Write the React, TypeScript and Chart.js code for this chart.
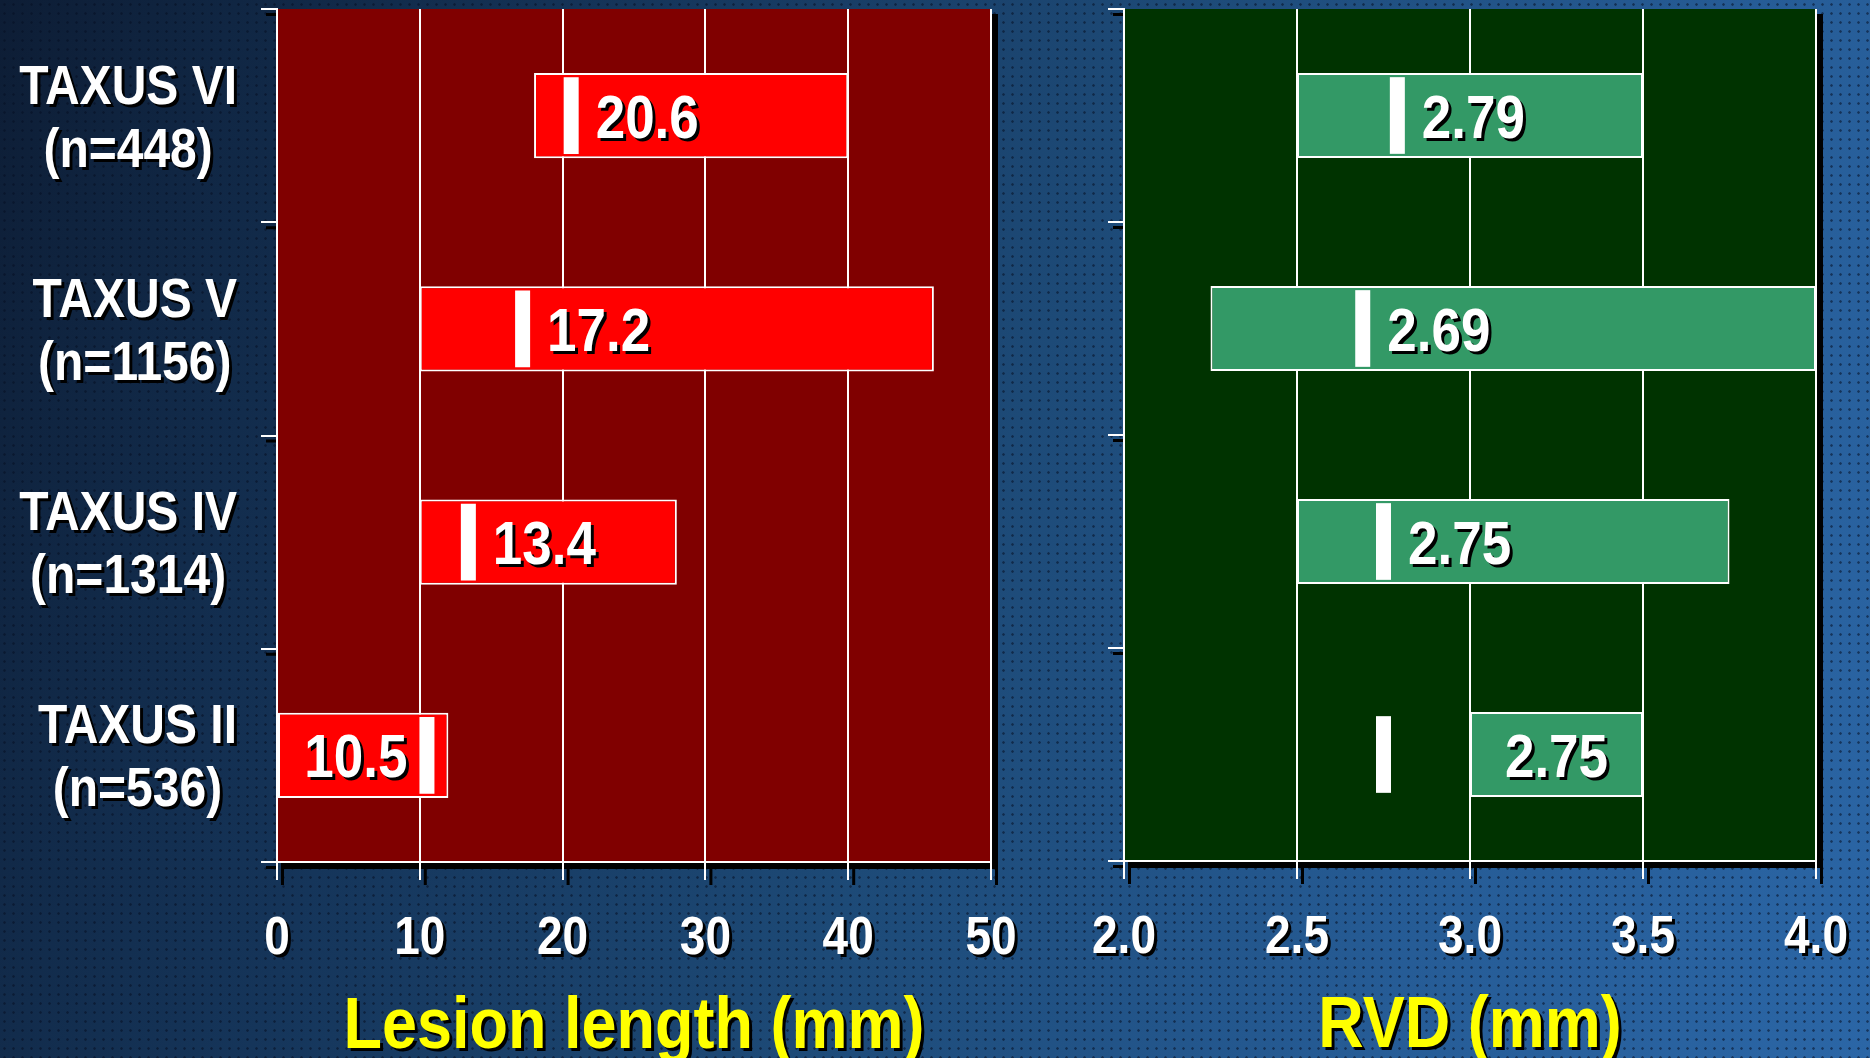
import React, { useEffect, useRef } from 'react';
import { Chart, registerables } from 'chart.js';

Chart.register(...registerables);

// ---------- data ----------
const categories = ['TAXUS VI', 'TAXUS V', 'TAXUS IV', 'TAXUS II'];
const sampleSizes = ['(n=448)', '(n=1156)', '(n=1314)', '(n=536)'];

const lesionRanges: [number, number][] = [[18, 40], [10, 46], [10, 28], [0, 12]];
const lesionMedians = [20.6, 17.2, 13.4, 10.5];
const lesionTicks = [0, 10, 20, 30, 40, 50];
const lesionTitle = 'Lesion length (mm)';

const rvdRanges: [number, number][] = [[2.5, 3.5], [2.25, 4.0], [2.5, 3.75], [3.0, 3.5]];
const rvdMedians = [2.79, 2.69, 2.75, 2.75];
const rvdTicks = [2.0, 2.5, 3.0, 3.5, 4.0];
const rvdTitle = 'RVD (mm)';

// ---------- helpers ----------
const FONT = '"Liberation Sans", Arial, Helvetica, sans-serif';
const STRETCH = 1.16;

function setFont(ctx: CanvasRenderingContext2D, size: number) {
  ctx.font = `bold ${size}px ${FONT}`;
}

function drawText(
  ctx: CanvasRenderingContext2D,
  text: string,
  x: number,
  yCenter: number,
  size: number,
  color: string,
  align: CanvasTextAlign,
) {
  ctx.save();
  setFont(ctx, size);
  ctx.textAlign = align;
  ctx.textBaseline = 'alphabetic';
  const capH = 0.716 * size;
  ctx.translate(x, yCenter);
  ctx.scale(1, STRETCH);
  const by = capH / 2;
  ctx.fillStyle = '#000000';
  ctx.fillText(text, 3, by + 3 / STRETCH);
  ctx.fillStyle = color;
  ctx.fillText(text, 0, by);
  ctx.restore();
}

interface PanelCfg {
  ranges: [number, number][];
  medians: number[];
  decimals: number;
  tickDecimals: number;
  title: string;
  plotBg: string;
  showCategories: boolean;
}

function makePlugin(cfg: PanelCfg) {
  return {
    id: 'panelDecor',
    beforeDraw(chart: any) {
      const ctx: CanvasRenderingContext2D = chart.ctx;
      const a = chart.chartArea;
      const xs = chart.scales.x;
      const ys = chart.scales.y;
      ctx.save();
      // drop shadow of plot area
      ctx.fillStyle = '#000000';
      ctx.fillRect(a.left + 6, a.top + 5, a.right - a.left + 1, a.bottom - a.top + 2);
      // shadows of bottom tick marks
      for (const t of xs.ticks) {
        const px = xs.getPixelForValue(t.value);
        ctx.fillRect(px + 4, a.bottom, 3, 23);
      }
      // shadows of left tick marks
      const n = ys.ticks.length;
      for (let i = 0; i <= n; i++) {
        const py = ys.getPixelForValue(i - 0.5);
        ctx.fillRect(a.left - 11, py + 4, 11, 3);
      }
      // plot background
      ctx.fillStyle = cfg.plotBg;
      ctx.fillRect(a.left, a.top, a.right - a.left, a.bottom - a.top);
      ctx.restore();
    },
    afterDatasetsDraw(chart: any) {
      const ctx: CanvasRenderingContext2D = chart.ctx;
      const xs = chart.scales.x;
      const ys = chart.scales.y;
      const band = Math.abs(ys.getPixelForValue(1) - ys.getPixelForValue(0));
      const mh = band * 0.36;
      const mw = 15;
      const size = 53;
      cfg.medians.forEach((m, i) => {
        const cy = ys.getPixelForValue(i);
        const pm = xs.getPixelForValue(m);
        const [lo, hi] = cfg.ranges[i];
        const plo = xs.getPixelForValue(lo);
        const phi = xs.getPixelForValue(hi);
        ctx.save();
        ctx.fillStyle = '#ffffff';
        ctx.fillRect(pm - mw / 2, cy - mh / 2, mw, mh);
        ctx.restore();
        const label = m.toFixed(cfg.decimals);
        ctx.save();
        setFont(ctx, size);
        const w = ctx.measureText(label).width;
        ctx.restore();
        if (pm >= plo && pm <= phi) {
          if (phi - (pm + mw / 2) >= w + 30) {
            drawText(ctx, label, pm + mw / 2 + 17, cy, size, '#ffffff', 'left');
          } else {
            drawText(ctx, label, pm - mw / 2 - 12, cy, size, '#ffffff', 'right');
          }
        } else {
          drawText(ctx, label, (plo + phi) / 2, cy, size, '#ffffff', 'center');
        }
      });
    },
    afterDraw(chart: any) {
      const ctx: CanvasRenderingContext2D = chart.ctx;
      const a = chart.chartArea;
      const xs = chart.scales.x;
      const ys = chart.scales.y;
      // tick labels
      for (const t of xs.ticks) {
        const px = xs.getPixelForValue(t.value);
        drawText(ctx, Number(t.value).toFixed(cfg.tickDecimals), px, a.bottom + 73, 46, '#ffffff', 'center');
      }
      // axis title
      drawText(ctx, cfg.title, (a.left + a.right) / 2, a.bottom + 160, 63, '#ffff00', 'center');
      // category labels
      if (cfg.showCategories) {
        categories.forEach((c, i) => {
          const cy = ys.getPixelForValue(i);
          ctx.save();
          setFont(ctx, 48);
          const w1 = ctx.measureText(c).width;
          const w2 = ctx.measureText(sampleSizes[i]).width;
          ctx.restore();
          const bw = Math.max(w1, w2);
          const right = a.left - 40;
          const cx = right - bw / 2;
          drawText(ctx, c, cx, cy - 32, 48, '#ffffff', 'center');
          drawText(ctx, sampleSizes[i], cx, cy + 31, 48, '#ffffff', 'center');
        });
      }
    },
  };
}

function buildConfig(
  ranges: [number, number][],
  ticks: number[],
  barColor: string,
  padding: { left: number; right: number; top: number; bottom: number },
  plugin: any,
): any {
  return {
    type: 'bar',
    data: {
      labels: categories,
      datasets: [
        {
          data: ranges,
          backgroundColor: barColor,
          borderColor: '#ffffff',
          borderWidth: 2,
          borderSkipped: false,
          barPercentage: 0.4,
          categoryPercentage: 1,
        },
      ],
    },
    options: {
      indexAxis: 'y',
      responsive: false,
      animation: false,
      layout: { padding },
      plugins: { legend: { display: false }, tooltip: { enabled: false } },
      scales: {
        x: {
          type: 'linear',
          position: 'bottom',
          min: ticks[0],
          max: ticks[ticks.length - 1],
          afterBuildTicks: (s: any) => {
            s.ticks = ticks.map((v) => ({ value: v }));
          },
          afterFit: (s: any) => {
            s.height = 0;
          },
          ticks: { display: false },
          grid: {
            display: true,
            color: '#ffffff',
            lineWidth: 2,
            drawOnChartArea: true,
            drawTicks: true,
            tickLength: 18,
          },
          border: { display: true, color: '#ffffff', width: 2 },
        },
        y: {
          type: 'category',
          position: 'left',
          offset: true,
          afterFit: (s: any) => {
            s.width = 0;
          },
          ticks: { display: false },
          grid: {
            display: true,
            offset: true,
            color: '#ffffff',
            lineWidth: 2,
            drawOnChartArea: false,
            drawTicks: true,
            tickLength: 16,
          },
          border: { display: true, color: '#ffffff', width: 2 },
        },
      },
    },
    plugins: [plugin],
  };
}

const W = 1870;
const H = 1058;

export default function App() {
  const leftRef = useRef<HTMLCanvasElement>(null);
  const rightRef = useRef<HTMLCanvasElement>(null);

  useEffect(() => {
    document.body.style.margin = '0';
    const left = new Chart(
      leftRef.current as HTMLCanvasElement,
      buildConfig(
        lesionRanges,
        lesionTicks,
        '#ff0000',
        { left: 277, right: W - 991, top: 9, bottom: H - 862 },
        makePlugin({
          ranges: lesionRanges,
          medians: lesionMedians,
          decimals: 1,
          tickDecimals: 0,
          title: lesionTitle,
          plotBg: '#800000',
          showCategories: true,
        }),
      ),
    );
    const right = new Chart(
      rightRef.current as HTMLCanvasElement,
      buildConfig(
        rvdRanges,
        rvdTicks,
        '#339966',
        { left: 1124, right: W - 1816, top: 9, bottom: H - 861 },
        makePlugin({
          ranges: rvdRanges,
          medians: rvdMedians,
          decimals: 2,
          tickDecimals: 1,
          title: rvdTitle,
          plotBg: '#003300',
          showCategories: false,
        }),
      ),
    );
    return () => {
      left.destroy();
      right.destroy();
    };
  }, []);

  const bg =
    'radial-gradient(circle, rgba(5,15,35,0.55) 0.9px, rgba(0,0,0,0) 1.6px) 0 0 / 9px 9px, ' +
    'linear-gradient(110deg, #0d1d35 0%, #15355a 28%, #1d4a77 52%, #265c96 78%, #2b66a6 100%)';

  return (
    <div
      style={{
        position: 'fixed',
        left: 0,
        top: 0,
        width: W,
        height: H,
        background: bg,
        overflow: 'hidden',
      }}
    >
      <canvas
        ref={leftRef}
        width={W}
        height={H}
        style={{ position: 'absolute', left: 0, top: 0, width: W, height: H }}
      />
      <canvas
        ref={rightRef}
        width={W}
        height={H}
        style={{ position: 'absolute', left: 0, top: 0, width: W, height: H }}
      />
    </div>
  );
}
